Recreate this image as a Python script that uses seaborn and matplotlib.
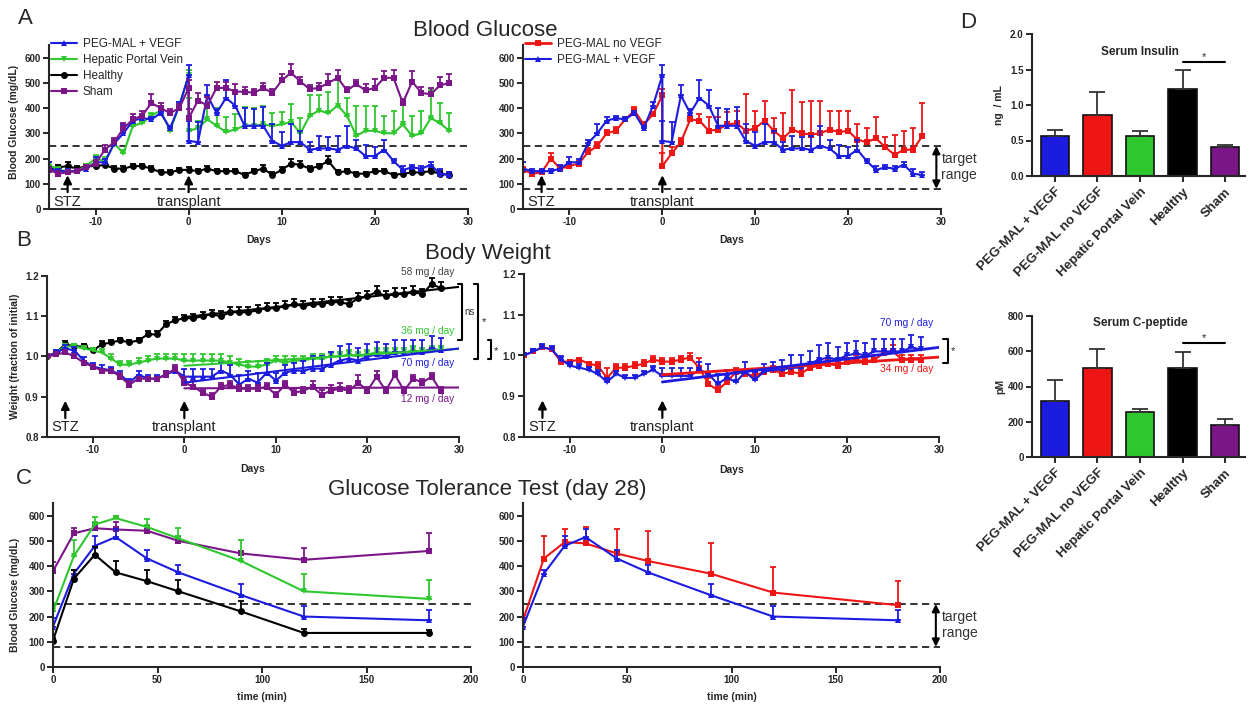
import numpy as np
import matplotlib
matplotlib.use('Agg')
import matplotlib.pyplot as plt
from matplotlib.lines import Line2D
import seaborn as sns

# ---------------- data ----------------
days_pre = list(range(-15, 1))
days_post = list(range(0, 29))
days_all = list(range(-15, 29))

# blood glucose (mg/dL), pre = day -15..0, post = day 0..28 (after transplant)
glu_vegf_pre = [160, 150, 150, 150, 160, 185, 185, 260, 300, 350, 360, 355, 380, 320, 410, 530]
glu_vegf_pre_err = [25, 10, 10, 10, 15, 20, 15, 15, 35, 15, 10, 10, 10, 10, 15, 40]
glu_vegf_post = [270, 265, 450, 380, 440, 410, 330, 330, 330, 270, 250, 265, 265, 235, 240,
                 240, 235, 250, 240, 210, 210, 235, 190, 155, 165, 160, 175, 140, 135]
glu_vegf_post_err = [80, 80, 40, 15, 70, 60, 70, 65, 75, 65, 55, 70, 45, 30, 50,
                     45, 55, 80, 35, 45, 35, 40, 10, 15, 10, 10, 10, 20, 10]

glu_hpv_pre = [175, 155, 150, 150, 170, 200, 190, 260, 220, 330, 340, 370, 390, 310, 410, 530]
glu_hpv_pre_err = [10, 10, 10, 10, 10, 15, 15, 15, 15, 15, 10, 10, 10, 10, 15, 20]
glu_hpv_post = [310, 320, 355, 330, 305, 315, 330, 330, 335, 330, 335, 345, 300, 370, 390,
                380, 410, 370, 290, 310, 310, 300, 300, 335, 290, 300, 360, 340, 310]
glu_hpv_post_err = [130, 30, 60, 70, 60, 60, 75, 70, 75, 50, 50, 70, 60, 80, 60,
                    85, 100, 70, 120, 100, 100, 70, 90, 85, 80, 90, 110, 80, 70]

glu_healthy = [160, 165, 170, 160, 170, 170, 175, 160, 160, 170, 170, 160, 145, 145, 155, 155,
               150, 160, 150, 150, 150, 135, 150, 160, 135, 155,
               180, 175, 160, 170, 190, 145, 150, 140, 140, 150,
               150, 135, 140, 145, 145, 150, 140, 135]
glu_healthy_err = [10, 10, 15, 10, 10, 10, 12, 10, 10, 8, 8, 10, 10, 8, 8, 10,
                   10, 10, 10, 10, 10, 8, 10, 15, 10, 10,
                   20, 15, 10, 10, 20, 10, 10, 8, 8, 8,
                   8, 8, 10, 10, 10, 10, 10, 10]

glu_sham_pre = [155, 140, 145, 150, 165, 180, 235, 265, 320, 355, 370, 420, 400, 380, 400, 480]
glu_sham_pre_err = [10, 10, 10, 10, 10, 15, 20, 15, 20, 20, 20, 35, 20, 15, 15, 30]
glu_sham_post = [360, 430, 410, 480, 480, 465, 465, 460, 480, 460, 510, 540, 505, 475, 480,
                 500, 520, 470, 495, 470, 480, 520, 520, 420, 505, 460, 455, 490, 500]
glu_sham_post_err = [35, 30, 35, 25, 25, 30, 20, 15, 20, 15, 25, 35, 20, 15, 20,
                     35, 30, 15, 15, 25, 35, 25, 30, 15, 40, 25, 25, 35, 35]

glu_novegf_pre = [155, 140, 145, 200, 160, 170, 180, 225, 250, 300, 310, 355, 390, 335, 375, 450]
glu_novegf_pre_err = [10, 10, 10, 20, 10, 15, 10, 15, 15, 15, 15, 10, 15, 10, 10, 25]
glu_novegf_post = [170, 220, 265, 355, 350, 310, 315, 335, 340, 310, 320, 350, 310, 280, 315,
                   300, 295, 300, 315, 305, 310, 275, 265, 280, 245, 215, 235, 235, 290]
glu_novegf_post_err = [50, 25, 15, 15, 25, 55, 50, 50, 50, 145, 70, 80, 50, 100, 155,
                       125, 135, 130, 75, 85, 80, 60, 55, 85, 40, 80, 75, 85, 130]

# body weight (fraction of initial), day -15..28
wt_healthy = [1.00, 1.01, 1.03, 1.025, 1.025, 1.015, 1.03, 1.035, 1.04, 1.035, 1.04, 1.055, 1.055, 1.08, 1.09, 1.095,
              1.095, 1.10, 1.105, 1.10, 1.11, 1.11, 1.11, 1.115, 1.12, 1.12,
              1.125, 1.13, 1.125, 1.13, 1.13, 1.135, 1.135, 1.13, 1.145, 1.15,
              1.16, 1.15, 1.155, 1.155, 1.16, 1.155, 1.18, 1.17]
wt_healthy_err = [0.005, 0.005, 0.008, 0.005, 0.005, 0.005, 0.008, 0.006, 0.006, 0.005, 0.005, 0.008, 0.008, 0.008, 0.008, 0.008,
                  0.01, 0.01, 0.01, 0.012, 0.012, 0.012, 0.012, 0.012, 0.012, 0.012,
                  0.014, 0.014, 0.012, 0.012, 0.012, 0.012, 0.012, 0.01, 0.012, 0.012,
                  0.015, 0.012, 0.015, 0.015, 0.015, 0.012, 0.015, 0.015]
wt_hpv = [1.00, 1.01, 1.025, 1.025, 1.02, 1.015, 1.01, 0.995, 0.98, 0.98, 0.985, 0.99, 0.995, 0.995, 0.995, 0.99,
          0.99, 0.99, 0.99, 0.99, 0.985, 0.98, 0.975, 0.975, 0.98, 0.99,
          0.985, 0.99, 0.99, 0.995, 0.995, 1.00, 1.00, 1.005, 1.00, 1.005,
          1.01, 1.01, 1.01, 1.01, 1.015, 1.01, 1.015, 1.015]
wt_hpv_err = [0.005, 0.005, 0.005, 0.005, 0.005, 0.005, 0.008, 0.01, 0.01, 0.01, 0.012, 0.012, 0.012, 0.012, 0.012, 0.015,
              0.015, 0.015, 0.015, 0.015, 0.015, 0.015, 0.015, 0.015, 0.015, 0.012,
              0.015, 0.012, 0.012, 0.012, 0.012, 0.012, 0.012, 0.01, 0.012, 0.012,
              0.012, 0.012, 0.012, 0.012, 0.012, 0.012, 0.012, 0.012]
wt_vegf = [1.00, 1.01, 1.02, 1.015, 0.99, 0.975, 0.97, 0.965, 0.955, 0.935, 0.955, 0.945, 0.945, 0.955, 0.965, 0.95,
           0.95, 0.95, 0.95, 0.965, 0.955, 0.93, 0.945, 0.935, 0.96, 0.94,
           0.96, 0.965, 0.965, 0.97, 0.97, 0.98, 0.99, 0.995, 0.99, 1.00,
           1.005, 1.00, 1.01, 1.01, 1.01, 1.01, 1.02, 1.015]
wt_vegf_err = [0.005, 0.005, 0.008, 0.008, 0.008, 0.008, 0.008, 0.008, 0.01, 0.01, 0.008, 0.008, 0.008, 0.008, 0.01, 0.02,
               0.02, 0.02, 0.02, 0.02, 0.025, 0.025, 0.02, 0.025, 0.025, 0.02,
               0.02, 0.02, 0.025, 0.03, 0.03, 0.03, 0.035, 0.035, 0.03, 0.03,
               0.03, 0.03, 0.03, 0.03, 0.03, 0.03, 0.03, 0.03]
wt_sham = [1.00, 1.005, 1.01, 1.0, 0.985, 0.975, 0.965, 0.965, 0.95, 0.93, 0.945, 0.945, 0.945, 0.955, 0.97, 0.935,
           0.925, 0.91, 0.90, 0.925, 0.93, 0.92, 0.92, 0.92, 0.925, 0.905,
           0.93, 0.91, 0.915, 0.925, 0.905, 0.915, 0.92, 0.915, 0.935, 0.915,
           0.95, 0.915, 0.955, 0.915, 0.945, 0.935, 0.95, 0.915]
wt_sham_err = [0.005, 0.005, 0.005, 0.005, 0.005, 0.005, 0.005, 0.005, 0.008, 0.008, 0.005, 0.005, 0.005, 0.008, 0.01, 0.015,
               0.015, 0.01, 0.01, 0.008, 0.008, 0.008, 0.008, 0.008, 0.01, 0.008,
               0.008, 0.008, 0.008, 0.015, 0.012, 0.015, 0.015, 0.012, 0.02, 0.008,
               0.015, 0.008, 0.01, 0.01, 0.008, 0.008, 0.01, 0.01]
wt_novegf = [1.00, 1.01, 1.02, 1.015, 0.985, 0.985, 0.99, 0.98, 0.975, 0.945, 0.97, 0.97, 0.975, 0.98, 0.99, 0.985,
             0.985, 0.99, 0.995, 0.97, 0.93, 0.915, 0.935, 0.96, 0.955, 0.95,
             0.96, 0.965, 0.955, 0.96, 0.955, 0.97, 0.975, 0.98, 0.975, 0.985,
             0.99, 0.985, 0.99, 1.005, 1.01, 0.99, 0.99, 0.99]
wt_novegf_err = [0.005, 0.005, 0.005, 0.005, 0.005, 0.005, 0.005, 0.005, 0.008, 0.025, 0.008, 0.008, 0.008, 0.008, 0.008, 0.008,
                 0.008, 0.008, 0.012, 0.025, 0.015, 0.01, 0.01, 0.01, 0.01, 0.01,
                 0.01, 0.01, 0.01, 0.01, 0.01, 0.01, 0.01, 0.01, 0.01, 0.01,
                 0.01, 0.01, 0.01, 0.012, 0.015, 0.01, 0.01, 0.01]

# linear fits after transplant (day 0 -> 30)
fit_days = [0, 30]
fit_healthy = [1.098, 1.173]
fit_hpv = [0.977, 1.019]
fit_vegf = [0.935, 1.02]
fit_sham = [0.921, 0.923]
fit_novegf = [0.953, 0.996]

# glucose tolerance test (day 28)
gtt_time = [0, 10, 20, 30, 45, 60, 90, 120, 180]
gtt_vegf = [160, 370, 480, 515, 430, 375, 285, 200, 185]
gtt_vegf_err = [35, 15, 40, 30, 35, 30, 45, 40, 40]
gtt_hpv = [220, 440, 565, 590, 555, 510, 420, 300, 270]
gtt_hpv_err = [35, 65, 30, 10, 30, 40, 85, 70, 75]
gtt_healthy = [105, 350, 445, 375, 340, 300, 220, 135, 135]
gtt_healthy_err = [10, 35, 30, 45, 45, 45, 40, 15, 10]
gtt_sham = [380, 530, 550, 545, 540, 500, 450, 425, 460]
gtt_sham_err = [35, 20, 20, 30, 20, 20, 10, 45, 70]
gtt_novegf = [185, 430, 495, 490, 450, 420, 370, 295, 245]
gtt_novegf_err = [20, 90, 50, 65, 95, 120, 120, 100, 95]

# serum measurements
groups = ['PEG-MAL + VEGF', 'PEG-MAL no VEGF', 'Hepatic Portal Vein', 'Healthy', 'Sham']
insulin = [0.57, 0.86, 0.56, 1.22, 0.41]
insulin_err = [0.08, 0.33, 0.07, 0.28, 0.02]
cpeptide = [320, 505, 255, 505, 180]
cpeptide_err = [115, 105, 20, 90, 38]

BLUE = '#1c1ce0'
GREEN = '#2ec82e'
PURPLE = '#7a1688'
RED = '#ee1515'
BLACK = '#000000'
bar_colors = [BLUE, RED, GREEN, BLACK, PURPLE]

# ---------------- figure ----------------
sns.set_style('ticks')
plt.rcParams['font.family'] = ['Liberation Sans', 'DejaVu Sans']

W, H = 1256, 706
fig = plt.figure(figsize=(W / 100, H / 100), dpi=100)


def add_ax(l, t, r, b):
    return fig.add_axes([l / W, 1 - b / H, (r - l) / W, (b - t) / H])


def prism(ax, xticks, xlabels, yticks, ylabels):
    sns.despine(ax=ax)
    ax.spines['left'].set_linewidth(1.5)
    ax.spines['bottom'].set_linewidth(1.5)
    ax.set_xticks(xticks, labels=xlabels, fontweight='bold', fontsize=7)
    ax.set_yticks(yticks, labels=ylabels, fontweight='bold', fontsize=7)
    ax.tick_params(length=4, width=1.4, pad=2)


def series(ax, x, y, err, color, marker, ms=5):
    sns.lineplot(x=x, y=y, ax=ax, estimator=None, sort=False, color=color,
                 marker=marker, markersize=ms, markeredgewidth=0, linewidth=1.5)
    ax.errorbar(x, y, yerr=[np.zeros(len(err)), err], fmt='none', ecolor=color,
                elinewidth=1.3, capsize=2.5, capthick=1.3)


def dashed(ax):
    for v in (250, 80):
        ax.axhline(v, color='#222222', lw=1.3, ls=(0, (4, 2.5)), zorder=0)


def target(ax, x, xt):
    ax.annotate('', xy=(x, 250), xytext=(x, 80), annotation_clip=False,
                arrowprops=dict(arrowstyle='<|-|>', lw=1.5, color='black', mutation_scale=11,
                                shrinkA=0, shrinkB=0))
    ax.text(xt, 166, 'target\nrange', ha='left', va='center', fontsize=10,
            color='#333333', linespacing=1.15, clip_on=False)


def events(ax, lo, hi, txt_y):
    for d, s in ((-13, 'STZ'), (0, 'transplant')):
        ax.annotate('', xy=(d, hi), xytext=(d, lo),
                    arrowprops=dict(arrowstyle='-|>', lw=1.6, color='black', mutation_scale=12,
                                    shrinkA=0, shrinkB=0))
        ax.text(d, txt_y, s, ha='center', va='top', fontsize=10.5, color='#222222')


day_ticks = [-10, 0, 10, 20, 30]
day_labels = ['-10', '0', '10', '20', '30']
glu_ticks = [0, 100, 200, 300, 400, 500, 600]
glu_labels = [str(v) for v in glu_ticks]
wt_ticks = [0.8, 0.9, 1.0, 1.1, 1.2]
wt_labels = ['0.8', '0.9', '1.0', '1.1', '1.2']

x_vegf = days_pre + days_post
lab_kw = dict(fontweight='bold', fontsize=7.5)

# ---- A left ----
ax = add_ax(49, 45, 468, 209)
dashed(ax)
series(ax, days_all, glu_healthy, glu_healthy_err, BLACK, 'o')
series(ax, x_vegf, glu_hpv_pre + glu_hpv_post, glu_hpv_pre_err + glu_hpv_post_err, GREEN, 'v')
series(ax, x_vegf, glu_vegf_pre + glu_vegf_post, glu_vegf_pre_err + glu_vegf_post_err, BLUE, '^')
series(ax, x_vegf, glu_sham_pre + glu_sham_post, glu_sham_pre_err + glu_sham_post_err, PURPLE, 's')
ax.set_xlim(-15, 30)
ax.set_ylim(0, 650)
prism(ax, day_ticks, day_labels, glu_ticks, glu_labels)
events(ax, 67, 134, 56)
ax.set_xlabel('Days', **lab_kw)
ax.set_ylabel('Blood Glucose (mg/dL)', **lab_kw)
ax.xaxis.set_label_coords(0.5, -0.16)
ax.yaxis.set_label_coords(-0.072, 0.53)
handles = [Line2D([], [], color=BLUE, marker='^', ms=5, mew=0, lw=1.5),
           Line2D([], [], color=GREEN, marker='v', ms=5, mew=0, lw=1.5),
           Line2D([], [], color=BLACK, marker='o', ms=5, mew=0, lw=1.5),
           Line2D([], [], color=PURPLE, marker='s', ms=5, mew=0, lw=1.5)]
ax.legend(handles, ['PEG-MAL + VEGF', 'Hepatic Portal Vein', 'Healthy', 'Sham'],
          loc='upper left', bbox_to_anchor=(0.005, 1.04), frameon=False, fontsize=8.5,
          handlelength=2.2, handletextpad=0.5, labelspacing=0.33, borderpad=0, borderaxespad=0)

# ---- A right ----
ax = add_ax(523, 45, 941, 209)
dashed(ax)
series(ax, x_vegf, glu_novegf_pre + glu_novegf_post, glu_novegf_pre_err + glu_novegf_post_err, RED, 's')
series(ax, x_vegf, glu_vegf_pre + glu_vegf_post, glu_vegf_pre_err + glu_vegf_post_err, BLUE, '^')
ax.set_xlim(-15, 30)
ax.set_ylim(0, 650)
prism(ax, day_ticks, day_labels, glu_ticks, glu_labels)
events(ax, 67, 134, 56)
target(ax, 29.5, 30.05)
ax.set_xlabel('Days', **lab_kw)
ax.xaxis.set_label_coords(0.5, -0.16)
handles = [Line2D([], [], color=RED, marker='s', ms=5, mew=0, lw=2),
           Line2D([], [], color=BLUE, marker='^', ms=5, mew=0, lw=1.5)]
ax.legend(handles, ['PEG-MAL no VEGF', 'PEG-MAL + VEGF'],
          loc='upper left', bbox_to_anchor=(0.005, 1.04), frameon=False, fontsize=8.5,
          handlelength=2.2, handletextpad=0.5, labelspacing=0.33, borderpad=0, borderaxespad=0)

# ---- B left ----
ax = add_ax(47, 276, 459, 437)
series(ax, days_all, wt_healthy, wt_healthy_err, BLACK, 'o')
series(ax, days_all, wt_hpv, wt_hpv_err, GREEN, 'v')
series(ax, days_all, wt_vegf, wt_vegf_err, BLUE, '^')
series(ax, days_all, wt_sham, wt_sham_err, PURPLE, 's')
for fy, c in ((fit_healthy, BLACK), (fit_hpv, GREEN), (fit_vegf, BLUE), (fit_sham, PURPLE)):
    sns.lineplot(x=fit_days, y=fy, ax=ax, color=c, linewidth=1.5)
ax.set_xlim(-15, 30)
ax.set_ylim(0.8, 1.2)
prism(ax, day_ticks, day_labels, wt_ticks, wt_labels)
events(ax, 0.847, 0.89, 0.842)
ax.set_xlabel('Days', **lab_kw)
ax.set_ylabel('Weight (fraction of initial)', **lab_kw)
ax.xaxis.set_label_coords(0.5, -0.17)
ax.yaxis.set_label_coords(-0.066, 0.5)
for txt, yy, c in (('58 mg / day', 1.21, '#444444'), ('36 mg / day', 1.063, GREEN),
                   ('70 mg / day', 0.984, BLUE), ('12 mg / day', 0.894, PURPLE)):
    ax.text(26.6, yy, txt, ha='center', va='center', fontsize=7.3, color=c, clip_on=False)
bk = dict(color='black', lw=1.5, clip_on=False)
ax.plot([29.9, 30.3, 30.3, 29.9], [1.18, 1.18, 1.041, 1.041], **bk)
ax.text(30.6, 1.11, 'ns', fontsize=7, va='center', ha='left', color='#333333')
ax.plot([31.6, 32.1, 32.1, 31.6], [1.18, 1.18, 0.994, 0.994], **bk)
ax.text(32.5, 1.086, '*', fontsize=8, va='center', ha='left')
ax.plot([33.2, 33.5, 33.5, 33.2], [1.041, 1.041, 0.994, 0.994], **bk)
ax.text(33.8, 1.014, '*', fontsize=8, va='center', ha='left')

# ---- B right ----
ax = add_ax(524, 274, 939, 437)
series(ax, days_all, wt_novegf, wt_novegf_err, RED, 's')
series(ax, days_all, wt_vegf, wt_vegf_err, BLUE, 'v')
sns.lineplot(x=fit_days, y=fit_novegf, ax=ax, color=RED, linewidth=2)
sns.lineplot(x=fit_days, y=fit_vegf, ax=ax, color=BLUE, linewidth=2)
ax.set_xlim(-15, 30)
ax.set_ylim(0.8, 1.2)
prism(ax, day_ticks, day_labels, wt_ticks, wt_labels)
events(ax, 0.847, 0.89, 0.842)
ax.set_xlabel('Days', **lab_kw)
ax.xaxis.set_label_coords(0.5, -0.17)
ax.text(26.5, 1.08, '70 mg / day', ha='center', va='center', fontsize=7.3, color=BLUE)
ax.text(26.5, 0.967, '34 mg / day', ha='center', va='center', fontsize=7.3, color=RED)
ax.plot([30.4, 30.97, 30.97, 30.4], [1.04, 1.04, 0.982, 0.982], **bk)
ax.text(31.3, 1.01, '*', fontsize=8, va='center', ha='left')

# ---- C left ----
gtt_ticks = [0, 50, 100, 150, 200]
gtt_labels = [str(v) for v in gtt_ticks]
ax = add_ax(53, 503, 471, 667)
dashed(ax)
series(ax, gtt_time, gtt_sham, gtt_sham_err, PURPLE, 's')
series(ax, gtt_time, gtt_hpv, gtt_hpv_err, GREEN, 'v')
series(ax, gtt_time, gtt_vegf, gtt_vegf_err, BLUE, '^')
series(ax, gtt_time, gtt_healthy, gtt_healthy_err, BLACK, 'o')
ax.set_xlim(0, 200)
ax.set_ylim(0, 650)
prism(ax, gtt_ticks, gtt_labels, glu_ticks, glu_labels)
ax.set_xlabel('time (min)', **lab_kw)
ax.set_ylabel('Blood Glucose (mg/dL)', **lab_kw)
ax.xaxis.set_label_coords(0.5, -0.15)
ax.yaxis.set_label_coords(-0.079, 0.44)

# ---- C right ----
ax = add_ax(523, 503, 940, 667)
dashed(ax)
series(ax, gtt_time, gtt_novegf, gtt_novegf_err, RED, 's')
series(ax, gtt_time, gtt_vegf, gtt_vegf_err, BLUE, '^')
ax.set_xlim(0, 200)
ax.set_ylim(0, 650)
prism(ax, gtt_ticks, gtt_labels, glu_ticks, glu_labels)
target(ax, 198, 201)
ax.set_xlabel('time (min)', **lab_kw)
ax.xaxis.set_label_coords(0.5, -0.15)


# ---- D bars ----
def bars(ax, vals, errs, yticks, ylabels, ylim, title, title_y, sig_y, ylab, ylab_x):
    sns.barplot(x=groups, y=vals, hue=groups, palette=bar_colors, legend=False, ax=ax,
                width=0.66, edgecolor='#111111', linewidth=1.2, saturation=1)
    ax.errorbar(range(len(vals)), vals, yerr=[np.zeros(len(errs)), errs], fmt='none',
                ecolor='#333333', elinewidth=1.3, capsize=6, capthick=1.3)
    ax.set_xlim(-0.54, 4.47)
    ax.set_ylim(*ylim)
    prism(ax, range(len(groups)), groups, yticks, ylabels)
    ax.tick_params(axis='x', labelsize=9.5, pad=3)
    for t in ax.get_xticklabels():
        t.set_rotation(45)
        t.set_ha('right')
        t.set_rotation_mode('anchor')
    ax.text(2, title_y, title, ha='center', va='center', fontsize=8.5, fontweight='bold')
    ax.plot([3, 4], [sig_y, sig_y], color='black', lw=1.5)
    ax.text(3.5, sig_y, '*', ha='center', va='bottom', fontsize=8)
    ax.set_xlabel('')
    ax.set_ylabel(ylab, **lab_kw)
    ax.yaxis.set_label_coords(ylab_x, 0.5)


ax = add_ax(1032, 34, 1245, 176)
bars(ax, insulin, insulin_err, [0, 0.5, 1.0, 1.5, 2.0], ['0.0', '0.5', '1.0', '1.5', '2.0'],
     (0, 2), 'Serum Insulin', 1.75, 1.6, 'ng  / mL', -0.13)
ax = add_ax(1032, 316, 1245, 457)
bars(ax, cpeptide, cpeptide_err, [0, 200, 400, 600, 800], ['0', '200', '400', '600', '800'],
     (0, 800), 'Serum C-peptide', 760, 645, 'pM', -0.125)

# ---- titles and panel letters ----
fig.text(485 / W, 1 - 30 / H, 'Blood Glucose', ha='center', va='center', fontsize=16)
fig.text(488 / W, 1 - 254 / H, 'Body Weight', ha='center', va='center', fontsize=16)
fig.text(487 / W, 1 - 490 / H, 'Glucose Tolerance Test (day 28)', ha='center', va='center', fontsize=16)
for s, x, y in (('A', 25, 18), ('B', 24, 240), ('C', 24, 478), ('D', 968, 22)):
    fig.text(x / W, 1 - y / H, s, ha='center', va='center', fontsize=16)

fig.savefig('out.png', dpi=100)
